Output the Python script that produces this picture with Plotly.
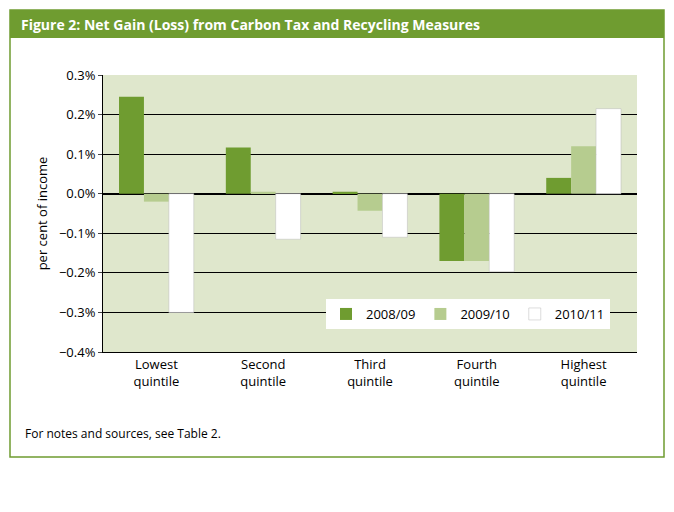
import plotly.graph_objects as go

grupos = ["Lowest<br>quintile", "Second<br>quintile", "Third<br>quintile", "Fourth<br>quintile", "Highest<br>quintile"]
v2008 = [0.245, 0.117, 0.005, -0.170, 0.040]
v2009 = [-0.020, 0.005, -0.043, -0.170, 0.120]
v2010 = [-0.300, -0.115, -0.110, -0.197, 0.215]

verde = "#6f9c30"
off = 8  # page margin of the browser
fig = go.Figure()
fig.add_trace(go.Bar(x=grupos, y=v2008, name="2008/09", marker=dict(color=verde, line=dict(width=0))))
fig.add_trace(go.Bar(x=grupos, y=v2009, name="2009/10", marker=dict(color="#b6cc8f", line=dict(width=0))))
fig.add_trace(go.Bar(x=grupos, y=v2010, name="2010/11", marker=dict(color="white", line=dict(color="#bbbbbb", width=0.5))))

def px(x): return (x - 103) / 534
def py(y): return (352 - y) / 277

fig.add_shape(type="rect", xref="paper", yref="paper", x0=px(10), x1=px(664), y0=py(457), y1=py(10),
              line=dict(color=verde, width=1.5), layer="below")
fig.add_shape(type="rect", xref="paper", yref="paper", x0=px(10), x1=px(664), y0=py(38), y1=py(10),
              fillcolor=verde, line=dict(width=0))
fig.add_annotation(xref="paper", yref="paper", x=px(19), y=py(24), xanchor="left", yanchor="middle",
                   text="<b>Figure 2: Net Gain (Loss) from Carbon Tax and Recycling Measures</b>",
                   showarrow=False, font=dict(color="white", size=14))
fig.add_annotation(xref="paper", yref="paper", x=px(23), y=py(433), xanchor="left", yanchor="middle",
                   text="For notes and sources, see Table 2.", showarrow=False, font=dict(size=12))

fig.update_layout(
    width=674 - off * 2, height=512 - off * 2,
    margin=dict(l=103 - off, r=37 - off, t=75 - off, b=160 - off),
    paper_bgcolor="white", plot_bgcolor="#dfe7cc",
    font=dict(family="Open Sans", size=13, color="black"),
    barmode="group", bargap=0.3, bargroupgap=0,
    legend=dict(orientation="h", x=px(326), y=py(299), xanchor="left", yanchor="top",
                bgcolor="white", font=dict(size=13), itemwidth=30),
    showlegend=True,
)
fig.update_xaxes(showline=True, linecolor="black", linewidth=1, ticks="", tickfont=dict(size=13))
fig.update_yaxes(range=[-0.4, 0.3], dtick=0.1, tickformat=".1f", ticksuffix="%", tickfont=dict(size=13),
                 showgrid=True, gridcolor="black", gridwidth=1, zeroline=True, zerolinecolor="black",
                 showline=True, linecolor="black", ticks="outside", ticklen=4,
                 title=dict(text="per cent of income", standoff=8, font=dict(size=13)))
fig.write_html("out.html")
